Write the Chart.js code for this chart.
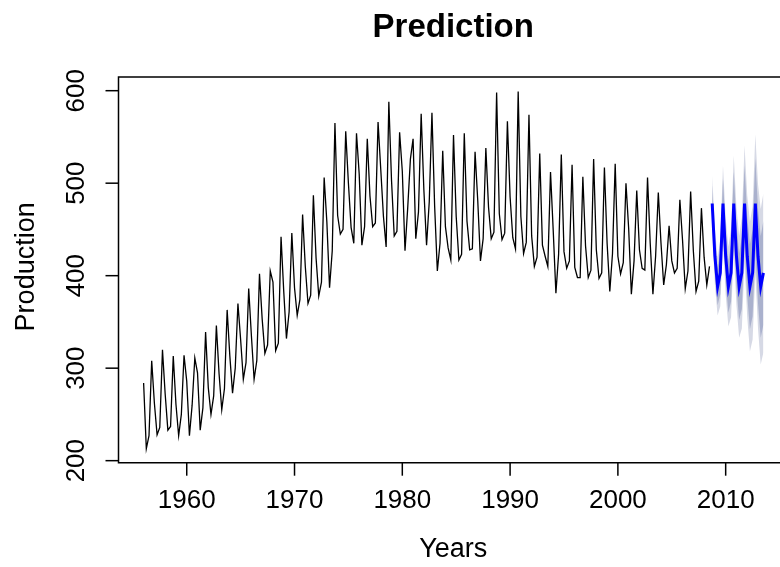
<!DOCTYPE html>
<html>
<head>
<meta charset="utf-8">
<title>Prediction</title>
<script src="https://cdn.jsdelivr.net/npm/chart.js@4.4.1/dist/chart.umd.min.js"></script>
<style>
    html, body { margin: 0; padding: 0; background: #ffffff; }
    #wrap { width: 780px; height: 567px; }
</style>
</head>
<body>
<div id="wrap"><canvas id="predictionChart" width="780" height="567"></canvas></div>
<script>
// Quarterly beer production, 1956 Q1 - 2008 Q3
const startYear = 1956;
const production = [
    284, 213, 227, 308,  262, 228, 236, 320,  272, 233, 237, 313,  261, 227, 250, 314,
    286, 227, 260, 311,  295, 233, 257, 339,  279, 250, 270, 346,  294, 255, 278, 363,
    313, 273, 300, 370,  331, 288, 306, 386,  335, 288, 308, 402,  353, 316, 325, 405,
    393, 319, 327, 442,  383, 332, 361, 446,  387, 357, 374, 466,  410, 370, 379, 487,
    419, 378, 393, 506,  458, 387, 427, 565,  465, 445, 450, 556,  500, 452, 435, 554,
    510, 433, 453, 548,  486, 453, 457, 566,  515, 464, 431, 588,  503, 443, 448, 555,
    513, 427, 473, 526,  548, 440, 469, 575,  493, 433, 480, 576,  475, 405, 435, 535,
    453, 430, 417, 552,  464, 417, 423, 554,  459, 428, 429, 534,  481, 416, 440, 538,
    474, 440, 447, 598,  467, 439, 446, 567,  485, 441, 429, 599,  464, 424, 436, 574,
    443, 410, 420, 532,  433, 421, 410, 512,  449, 381, 423, 531,  426, 408, 416, 520,
    409, 398, 398, 507,  432, 398, 406, 526,  428, 397, 403, 517,  435, 383, 424, 521,
    421, 402, 414, 500,  451, 380, 416, 492,  428, 408, 406, 506,  435, 380, 421, 490,
    435, 390, 412, 454,  416, 403, 408, 482,  438, 386, 405, 491,  427, 383, 394, 473,
    420, 390, 410
];

// Forecast, 2008 Q4 - 2013 Q3
const forecastStart = 2008.75;
const forecastMean = [478, 421, 388, 403, 478, 421, 388, 403, 478, 421, 388, 403, 478, 421, 388, 403, 478, 421, 388, 403];
const upper80 = [498, 441, 408, 426, 505, 448, 416, 434, 512, 455, 424, 442, 519, 464, 434, 450, 527, 472, 443, 459];
const lower80 = [458, 401, 368, 380, 451, 394, 360, 372, 444, 387, 352, 364, 437, 378, 342, 356, 429, 370, 333, 347];
const upper95 = [508, 452, 419, 439, 519, 463, 431, 451, 530, 474, 443, 463, 541, 487, 458, 475, 553, 499, 472, 489];
const lower95 = [448, 390, 357, 367, 437, 379, 345, 355, 426, 368, 333, 343, 415, 355, 318, 331, 403, 343, 304, 317];

// Axis ticks
const xTicks = [1960, 1970, 1980, 1990, 2000, 2010];
const yTicks = [200, 300, 400, 500, 600];

const FONT = '"Liberation Sans", Arial, Helvetica, sans-serif';

// turn a quarterly series into {x, y} points
function toPoints(values, start) {
    return values.map((v, i) => ({ x: start + i / 4, y: v }));
}

// R style box, ticks and labels drawn from the chart scales
const rAxesPlugin = {
    id: 'rAxes',
    afterDraw(chart) {
        const ctx = chart.ctx;
        const area = chart.chartArea;
        const xs = chart.scales.x;
        const ys = chart.scales.y;

        ctx.save();
        ctx.strokeStyle = '#000000';
        ctx.fillStyle = '#000000';
        ctx.lineWidth = 1.5;

        // box (right edge falls outside the picture)
        ctx.beginPath();
        ctx.moveTo(area.right + 10, area.top);
        ctx.lineTo(area.left, area.top);
        ctx.lineTo(area.left, area.bottom);
        ctx.lineTo(area.right + 10, area.bottom);
        ctx.stroke();

        // x ticks
        ctx.font = '26px ' + FONT;
        ctx.textAlign = 'center';
        ctx.textBaseline = 'alphabetic';
        xTicks.forEach(t => {
            const px = xs.getPixelForValue(t);
            ctx.beginPath();
            ctx.moveTo(px, area.bottom);
            ctx.lineTo(px, area.bottom + 13);
            ctx.stroke();
            ctx.fillText(String(t), px, 508);
        });

        // y ticks, labels turned like R's default
        yTicks.forEach(t => {
            const py = ys.getPixelForValue(t);
            ctx.beginPath();
            ctx.moveTo(area.left, py);
            ctx.lineTo(area.left - 13, py);
            ctx.stroke();
            ctx.save();
            ctx.translate(84, py);
            ctx.rotate(-Math.PI / 2);
            ctx.fillText(String(t), 0, 0);
            ctx.restore();
        });

        // axis titles
        const midX = (area.left + 788) / 2;
        ctx.font = '27px ' + FONT;
        ctx.fillText('Years', midX, 557);
        ctx.save();
        ctx.translate(34, (area.top + area.bottom) / 2 - 3);
        ctx.rotate(-Math.PI / 2);
        ctx.fillText('Production', 0, 0);
        ctx.restore();

        // main title
        ctx.font = 'bold 33px ' + FONT;
        ctx.fillText('Prediction', midX, 37);
        ctx.restore();
    }
};

const ctx = document.getElementById('predictionChart');

new Chart(ctx, {
    type: 'line',
    data: {
        datasets: [
            {
                label: 'Forecast',
                data: toPoints(forecastMean, forecastStart),
                borderColor: '#0000ff',
                borderWidth: 3,
                pointRadius: 0,
                fill: false,
                order: 0
            },
            {
                label: 'Production',
                data: toPoints(production, startYear),
                borderColor: '#000000',
                borderWidth: 1.3,
                pointRadius: 0,
                fill: false,
                order: 1
            },
            {
                label: 'Upper 80',
                data: toPoints(upper80, forecastStart),
                borderWidth: 0,
                borderColor: 'rgba(0,0,0,0)',
                backgroundColor: '#aab1cd',
                pointRadius: 0,
                fill: 3,
                order: 2
            },
            {
                label: 'Lower 80',
                data: toPoints(lower80, forecastStart),
                borderWidth: 0,
                borderColor: 'rgba(0,0,0,0)',
                pointRadius: 0,
                fill: false,
                order: 3
            },
            {
                label: 'Upper 95',
                data: toPoints(upper95, forecastStart),
                borderWidth: 0,
                borderColor: 'rgba(0,0,0,0)',
                backgroundColor: '#d6d9e5',
                pointRadius: 0,
                fill: 5,
                order: 4
            },
            {
                label: 'Lower 95',
                data: toPoints(lower95, forecastStart),
                borderWidth: 0,
                borderColor: 'rgba(0,0,0,0)',
                pointRadius: 0,
                fill: false,
                order: 5
            }
        ]
    },
    options: {
        responsive: false,
        animation: false,
        layout: {
            padding: { left: 118.5, right: 0, top: 77, bottom: 104.3 }
        },
        elements: {
            line: { tension: 0 }
        },
        plugins: {
            legend: { display: false },
            tooltip: { enabled: false },
            title: { display: false }
        },
        scales: {
            x: {
                type: 'linear',
                min: 1953.67,
                max: 2015.04,
                display: false
            },
            y: {
                type: 'linear',
                min: 197.8,
                max: 614.8,
                display: false
            }
        }
    },
    plugins: [rAxesPlugin]
});
</script>
</body>
</html>
